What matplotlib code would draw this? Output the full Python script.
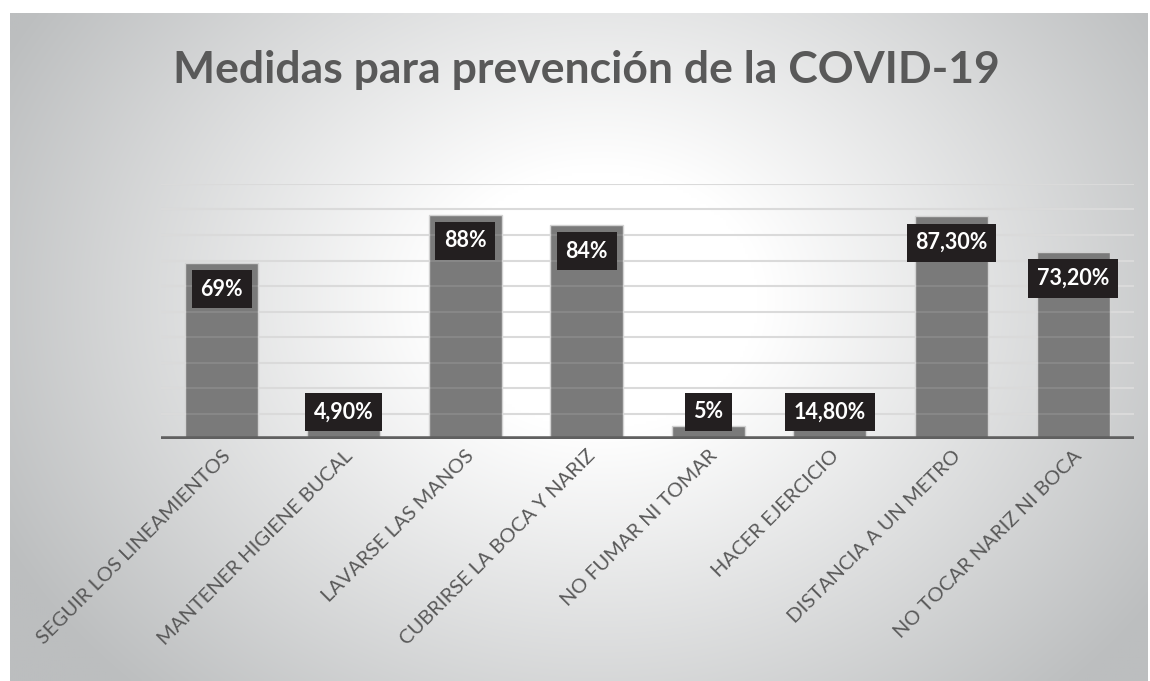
import numpy as np
import matplotlib.pyplot as plt

categorias = ["SEGUIR LOS LINEAMIENTOS", "MANTENER HIGIENE BUCAL", "LAVARSE LAS MANOS",
              "CUBRIRSE LA BOCA Y NARIZ", "NO FUMAR NI TOMAR", "HACER EJERCICIO",
              "DISTANCIA A UN METRO", "NO TOCAR NARIZ NI BOCA"]
valores = [69, 4.9, 88, 84, 5, 14.8, 87.3, 73.2]
etiquetas = ["69%", "4,90%", "88%", "84%", "5%", "14,80%", "87,30%", "73,20%"]

plt.rcParams['font.family'] = ['Lato', 'DejaVu Sans']

W, H = 1150, 681
fig = plt.figure(figsize=(W / 100, H / 100), dpi=100)
fig.patch.set_facecolor('white')

# radial gradient background of the chart area
bg = fig.add_axes([0, 0, 1, 1])
bg.set_xlim(0, W)
bg.set_ylim(H, 0)
bg.axis('off')
x0, y0, x1, y1 = 10, 13, 1148, 681
xx, yy = np.meshgrid(np.linspace(x0, x1, 400), np.linspace(y0, y1, 240))
r = np.sqrt(((xx - 600) / 640) ** 2 + ((yy - 300) / 520) ** 2)
t = np.clip((r - 0.25) / 0.8, 0, 1)
c_in = np.array([1.0, 1.0, 1.0])
c_out = np.array([0xbc, 0xbe, 0xbf]) / 255
img = c_in[None, None, :] * (1 - t[..., None]) + c_out[None, None, :] * t[..., None]
bg.imshow(img, extent=(x0, x1, y1, y0), aspect='auto', interpolation='bilinear')

ax = fig.add_axes([161 / W, 1 - 439 / H, (1134 - 161) / W, (439 - 184) / H])
ax.set_facecolor('none')
ax.set_xlim(-0.5, len(categorias) - 0.5)
ax.set_ylim(0, 100)

for g in range(10, 101, 10):
    ax.axhline(g, color='#d6d6d6', lw=1.5, zorder=1)
    ax.axhline(g, color='white', lw=1.2, alpha=0.12, zorder=2.5)

x = np.arange(len(categorias))
ax.bar(x, valores, width=0.6, color='#7a7a7a', edgecolor='#d2d2d2', lw=1, zorder=2)
ax.axhline(0, color='#606060', lw=4, zorder=3)

for xi, v, lab in zip(x, valores, etiquetas):
    yl = max(v - 10.3, 10.7)
    ax.text(xi, yl, lab, ha='center', va='center', color='white', fontsize=15.5,
            fontweight='bold', zorder=4,
            bbox=dict(boxstyle='square,pad=0.4', facecolor='#231f20', edgecolor='none'))

ax.set_xticks(x)
ax.set_xticklabels(categorias, rotation=45, ha='right', va='top', rotation_mode='anchor',
                   fontsize=14.5, color='#595959')
ax.tick_params(axis='x', length=0, pad=6)
ax.set_yticks([])
for s in ax.spines.values():
    s.set_visible(False)

fig.text(586 / W, 1 - 70 / H, "Medidas para prevención de la COVID-19", ha='center', va='center',
         fontsize=32, fontweight='bold', color='#595959')

fig.savefig('out.png', dpi=100)
